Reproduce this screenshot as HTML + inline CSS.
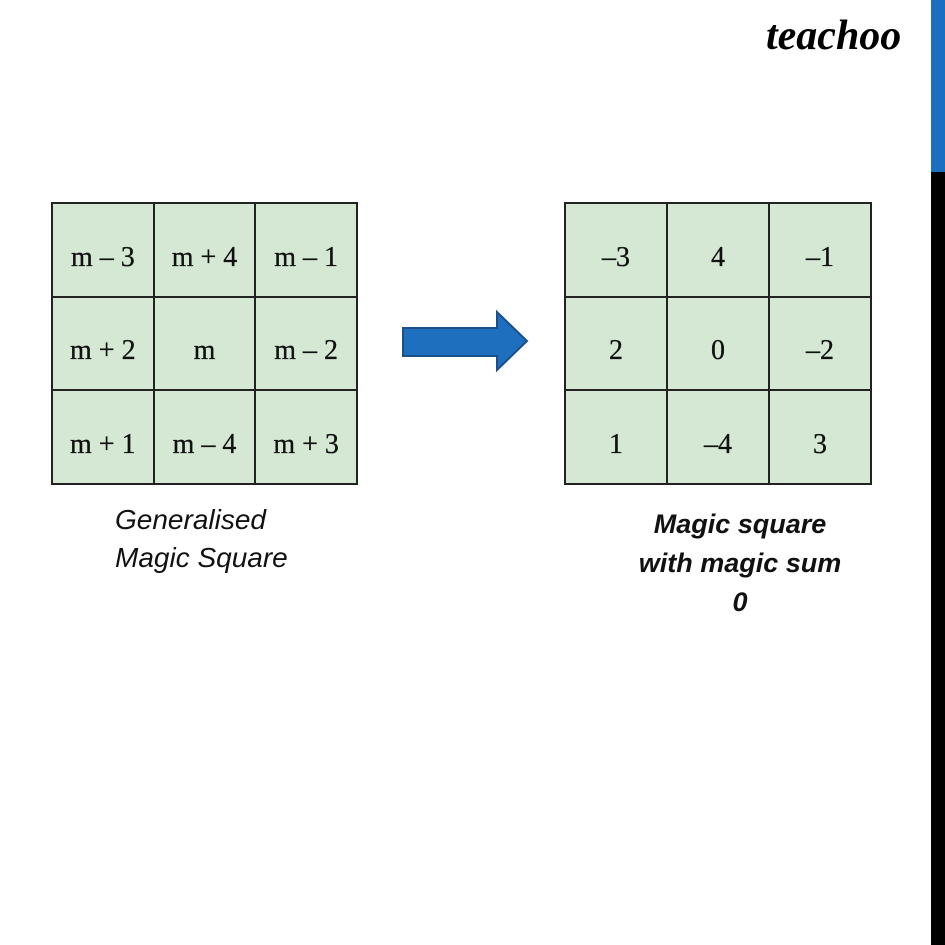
<!DOCTYPE html>
<html><head><style>
body{margin:0;width:945px;height:945px;background:#fff;position:relative;overflow:hidden;font-family:"Liberation Serif",serif}
.g{position:absolute;border-collapse:collapse;background:#d5e8d4}
.g td{border:2px solid #222;text-align:center;font-size:28px;color:#111;padding:16px 0 0 0;-webkit-text-stroke:0.3px #111}
.cap{position:absolute;font-family:"Liberation Sans",sans-serif;font-style:italic;font-size:28px;line-height:38px;color:#111}
</style></head><body>
<div style="position:absolute;left:931px;top:0;width:14px;height:172px;background:#1a6fc1"></div>
<div style="position:absolute;left:931px;top:172px;width:14px;height:773px;background:#000"></div>
<div style="position:absolute;left:766px;top:12px;font-family:'Liberation Serif',serif;font-style:italic;font-weight:bold;font-size:42px;color:#000">teachoo</div>
<table class="g" style="left:51px;top:202px;width:307px;height:283px">
<tr><td>m – 3</td><td>m + 4</td><td>m – 1</td></tr>
<tr><td>m + 2</td><td>m</td><td>m – 2</td></tr>
<tr><td>m + 1</td><td>m – 4</td><td>m + 3</td></tr>
</table>
<table class="g" style="left:564px;top:202px;width:308px;height:283px">
<tr><td>–3</td><td>4</td><td>–1</td></tr>
<tr><td>2</td><td>0</td><td>–2</td></tr>
<tr><td>1</td><td>–4</td><td>3</td></tr>
</table>
<svg style="position:absolute;left:0;top:0" width="945" height="945">
<polygon points="403,328 497,328 497,312 527,341 497,370 497,356 403,356" fill="#1f6fbf" stroke="#1a4f8a" stroke-width="2"/>
</svg>
<div class="cap" style="left:115px;top:501px">Generalised<br>Magic Square</div>
<div class="cap" style="left:610px;top:505px;width:260px;text-align:center;font-weight:bold;font-size:27px;line-height:39px">Magic square<br>with magic sum<br>0</div>
</body></html>
